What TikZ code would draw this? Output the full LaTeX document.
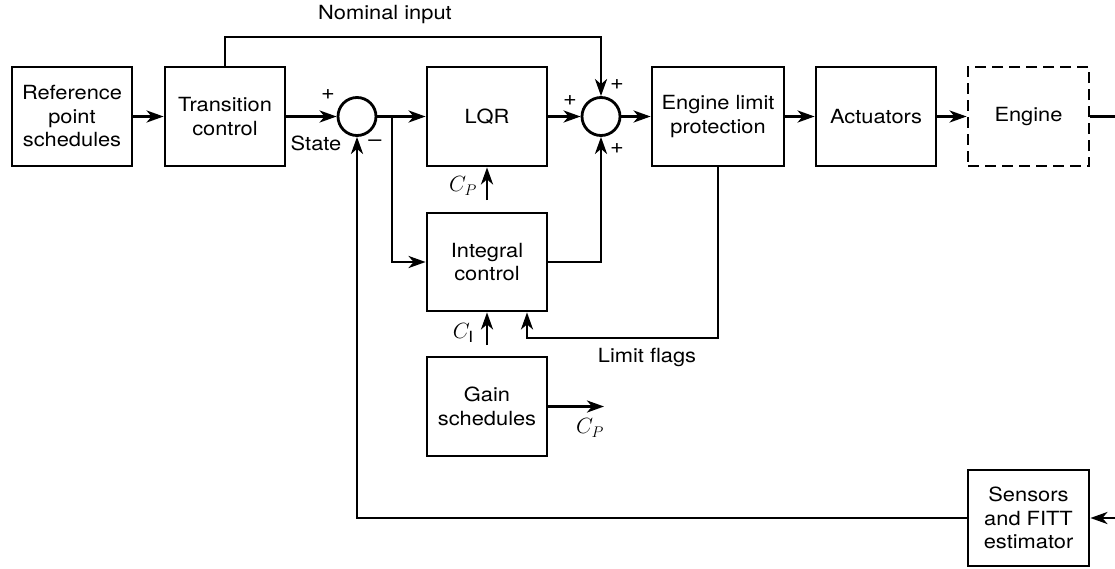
\documentclass[tikz,border=0pt]{standalone}
\usepackage{fix-cm}
\usepackage{fontspec}
\setmainfont{TeX Gyre Heros}[FakeStretch=1.12]
\usetikzlibrary{arrows.meta}
\begin{document}
\begin{tikzpicture}[x=1pt,y=-1pt,
  blk/.style={draw, line width=2.8pt, minimum width=120pt, minimum height=99pt, align=center,
    font=\fontsize{19.5}{23.5}\selectfont, inner sep=0pt},
  sumc/.style={draw, circle, line width=2.8pt, minimum size=38pt, inner sep=0pt},
  ln/.style={line width=2.8pt},
  arr/.style={ln, -{Stealth[length=17pt,width=12pt,inset=5pt]}},
  lbl/.style={font=\fontsize{19.5}{23.5}\selectfont, inner sep=0pt},
  mlbl/.style={font=\fontsize{22}{24}\selectfont, inner sep=0pt},
  sgn/.style={font=\fontsize{21}{21}\selectfont, inner sep=0pt}]
\useasboundingbox (0,0) rectangle (1115,568);
% blocks
\node[blk] (ref) at (72,116.5) {Reference\\point\\schedules};
\node[blk] (trans) at (225,116.5) {Transition\\control};
\node[sumc] (s1) at (357,116.5) {};
\node[blk] (lqr) at (487,116.5) {LQR};
\node[sumc] (s2) at (601,116.5) {};
\node[blk, minimum width=132pt] (elp) at (718,116.5) {Engine limit\\protection};
\node[blk] (act) at (876,116.5) {Actuators};
\node[blk, dash pattern=on 11pt off 6pt, minimum width=121pt] (eng) at (1028.5,116.5) {Engine};
\node[blk, minimum height=98pt] (int) at (487,262) {Integral\\control};
\node[blk] (gain) at (487,406.5) {Gain\\schedules};
\node[blk, minimum width=121pt, minimum height=96pt] (sens) at (1028.5,518) {Sensors\\and FITT\\estimator};
% labels
\node[lbl] (nomlbl) at (385,15) {Nominal input};
\node[lbl] (state) at (316,143) {State};
\node[lbl] (limf) at (647,357) {Limit flags};
\node[mlbl] (cp1) at (463,186) {$C_P$};
\node[mlbl] (ci) at (463,333) {$C_\mathrm{I}$};
\node[mlbl] (cp2) at (590,428) {$C_P$};
% signs
\node[sgn] (p1) at (328,95) {+};
\node[sgn] (m1) at (375,143) {\textendash};
\node[sgn] (p2) at (570,101) {+};
\node[sgn] (p3) at (617,85) {+};
\node[sgn] (p4) at (617,149) {+};
% coordinates
\coordinate (out) at (1115,116.5);
\coordinate (sin) at (1115,518);
\coordinate (nomc) at (601,37);
\coordinate (br) at (392,116.5);
\coordinate (cp0) at (487,200);
\coordinate (ci0) at (487,345);
\coordinate (lf) at (527,338);
\coordinate (gout) at (604,406.5);
% connectors
\draw[arr] (ref) -- (trans);
\draw[arr] (trans) -- (s1);
\draw[arr] (s1) -- (lqr);
\draw[arr] (lqr) -- (s2);
\draw[arr] (s2) -- (elp);
\draw[arr] (elp) -- (act);
\draw[arr] (act) -- (eng);
\draw[ln] (eng) -- (out);
\draw[arr] (sin) -- (sens);
\draw[arr] (sens.west) -| (s1.south);
\draw[arr] (trans.north) |- (nomc) -- (s2.north);
\draw[arr] (br) |- (int.west);
\draw[arr] (int.east) -| (s2.south);
\draw[arr] (cp0) -- (lqr.south);
\draw[arr] (ci0) -- (int.south);
\draw[arr] (elp.south) |- (lf) -- (int.south -| lf);
\draw[arr] (gain.east) -- (gout);
\end{tikzpicture}
\end{document}
